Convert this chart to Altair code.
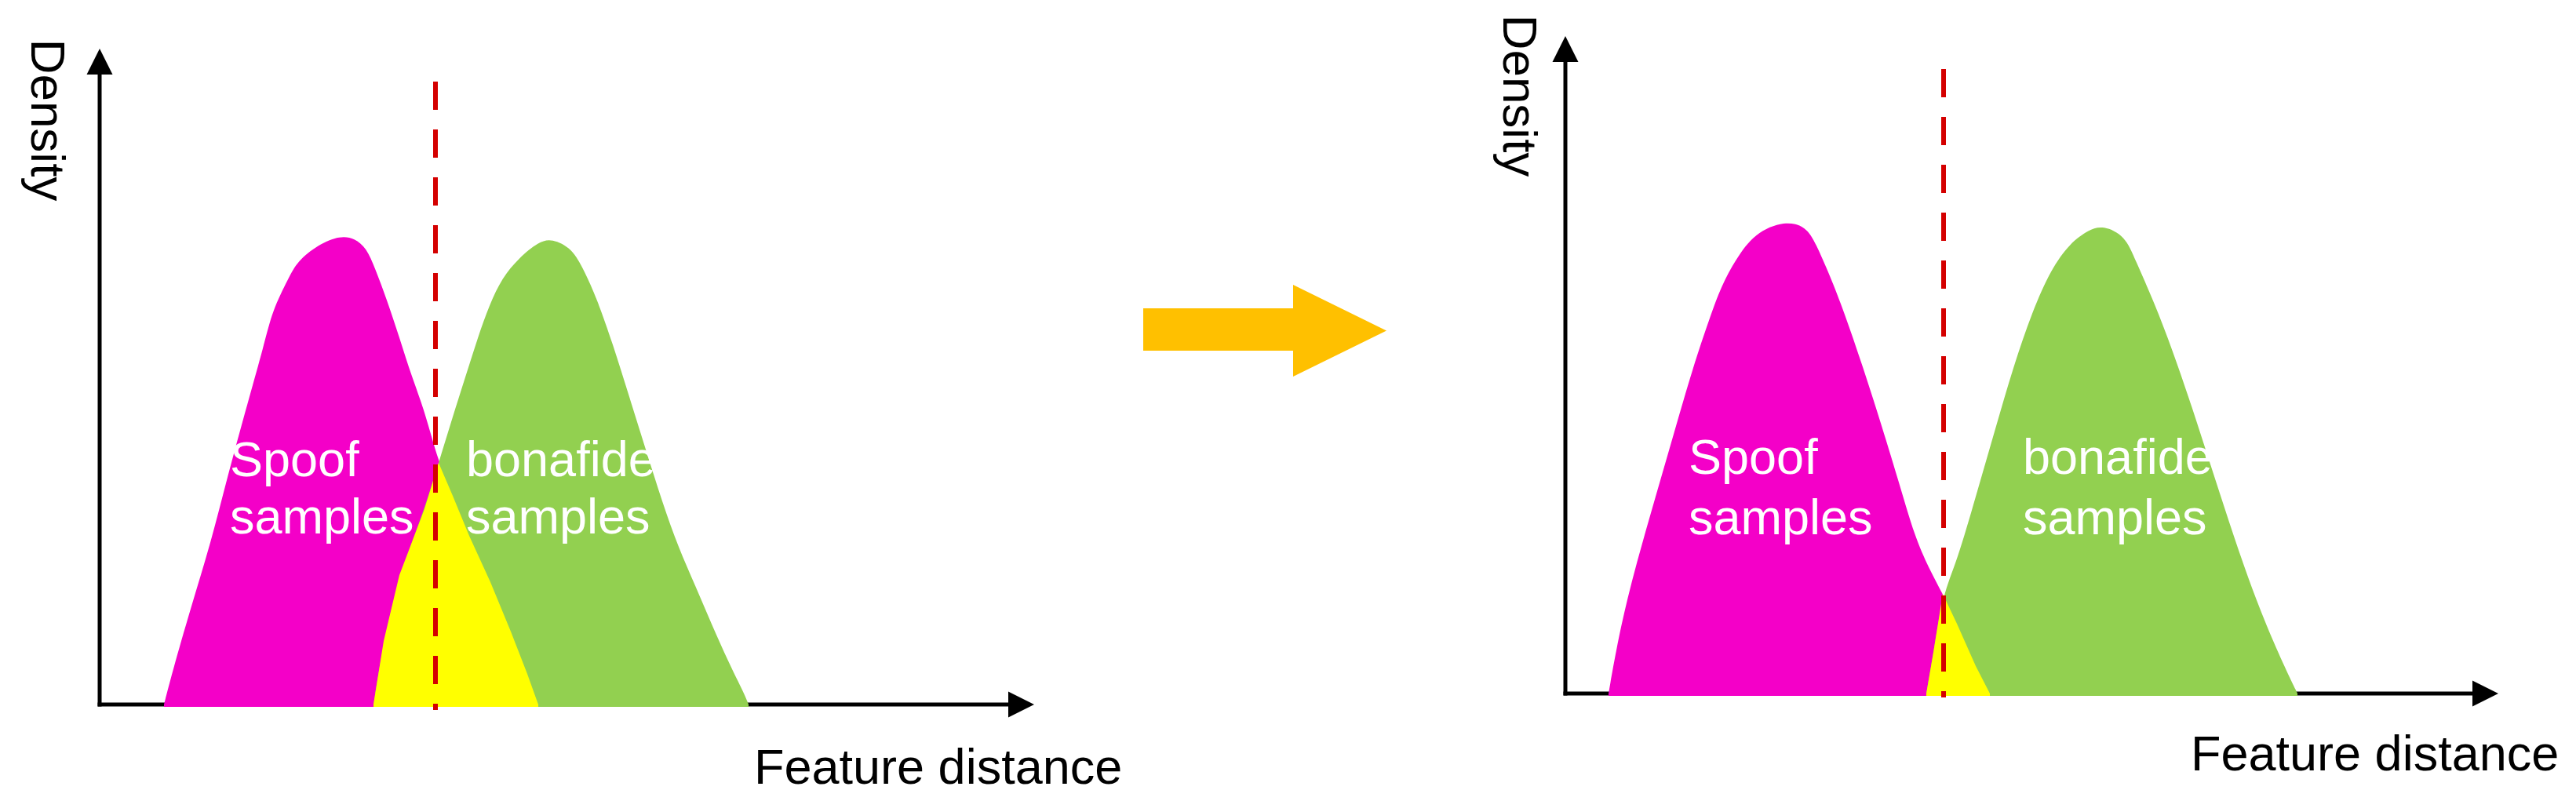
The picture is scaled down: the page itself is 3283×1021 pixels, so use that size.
import altair as alt
import pandas as pd

FONT = "Liberation Sans"

# ---------------- values ----------------
# left panel ("before"): feature distance / density, origin at axis corner
L_spoof_x = [82, 92, 116, 142, 163, 186, 210, 220, 241, 252, 278, 307, 325, 340, 351, 366, 382, 398, 414, 432, 450, 471, 498, 524, 545, 559]
L_spoof_y = [0, 39, 123, 207, 291, 375, 460, 502, 544, 565, 586, 598, 594, 582, 556, 516, 468, 417, 375, 308, 266, 215, 156, 93, 39, 0]
L_bona_x = [349, 362, 382, 414, 432, 450, 466, 482, 497, 513, 534, 560, 576, 602, 618, 633, 654, 675, 696, 717, 738, 759, 780, 801, 822, 827]
L_bona_y = [0, 81, 165, 249, 308, 367, 417, 468, 510, 544, 569, 590, 594, 582, 552, 519, 460, 392, 325, 258, 199, 152, 102, 55, 13, 0]
L_overlap_x = [349, 362, 382, 414, 432, 450, 471, 498, 524, 545, 559]
L_overlap_y = [0, 81, 165, 249, 308, 266, 215, 156, 93, 39, 0]
L_threshold = 428

# right panel ("after")
R_spoof_x = [55, 70, 91, 115, 139, 163, 184, 199, 217, 241, 280, 307, 319, 337, 355, 379, 403, 427, 445, 463, 481, 499, 523, 541]
R_spoof_y = [0, 85, 168, 251, 334, 417, 479, 520, 553, 587, 603, 595, 574, 533, 487, 417, 342, 263, 201, 160, 127, 89, 35, 0]
R_bona_x = [460, 469, 481, 499, 523, 547, 571, 595, 619, 643, 667, 685, 714, 726, 750, 774, 798, 822, 846, 870, 894, 918, 933]
R_bona_y = [0, 52, 127, 168, 251, 334, 417, 487, 541, 574, 591, 597, 583, 553, 500, 437, 367, 292, 218, 147, 85, 31, 0]
R_overlap_x = [460, 469, 481, 499, 523, 541]
R_overlap_y = [0, 52, 127, 89, 35, 0]
R_threshold = 482

LABEL_SPOOF = ["Spoof", "samples"]
LABEL_BONA = ["bonafide", "samples"]
X_TITLE = "Feature distance"
Y_TITLE = "Density"

# ---------------- styles / layout ----------------
MAGENTA = "#F400C8"
GREEN = "#92D050"
YELLOW = "#FFFF00"
RED = "#D40000"
GOLD = "#FFC000"
H = 1003


def panel(sx, sy, bx, by, ox_, oy_, thr, width, ox, oy, ytip, xtip,
          dash_top, dash_bot, lab_sx, lab_bx, lab_y1, lab_y2,
          dens_pos, fd_pos):
    xs = alt.Scale(domain=[-ox, width - ox], nice=False, zero=False)
    ys = alt.Scale(domain=[-(H - oy), oy], nice=False, zero=False)
    X = lambda f: alt.X(f, type="quantitative", scale=xs, axis=None)
    Y = lambda f: alt.Y(f, type="quantitative", scale=ys, axis=None)

    axes = pd.DataFrame({"x": [0, -2.5], "y": [-2.5, 0],
                         "x2": [0, xtip - 25], "y2": [ytip - 25, 0]})
    axis_rules = alt.Chart(axes).mark_rule(color="black", strokeWidth=5).encode(
        x=X("x"), y=Y("y"), x2="x2", y2="y2")
    yhead = alt.Chart(pd.DataFrame({"y": [ytip - 33, ytip], "x": [-16.5, 0], "x2": [16.5, 0]})).mark_area(
        color="black", orient="horizontal").encode(y=Y("y"), x=X("x"), x2="x2")
    xhead = alt.Chart(pd.DataFrame({"x": [xtip - 33, xtip], "y": [-16.5, 0], "y2": [16.5, 0]})).mark_area(
        color="black", orient="vertical").encode(x=X("x"), y=Y("y"), y2="y2")

    def area(xv, yv, col, interp):
        return alt.Chart(pd.DataFrame({"x": xv, "y": yv})).mark_area(
            color=col, opacity=1, interpolate=interp).encode(
            x=X("x"), y=Y("y"), y2=alt.datum(-3))

    spoof = area(sx, sy, MAGENTA, "basis")
    bona = area(bx, by, GREEN, "basis")
    over = area(ox_, oy_, YELLOW, "linear")

    dash = alt.Chart(pd.DataFrame({"x": [thr], "y": [dash_top], "y2": [dash_bot]})).mark_rule(
        color=RED, strokeWidth=6, strokeDash=[36, 25]).encode(x=X("x"), y=Y("y"), y2="y2")

    labs = pd.DataFrame({
        "x": [lab_sx, lab_sx, lab_bx, lab_bx],
        "y": [lab_y1, lab_y2, lab_y1, lab_y2],
        "t": [LABEL_SPOOF[0], LABEL_SPOOF[1], LABEL_BONA[0], LABEL_BONA[1]],
    })
    labels = alt.Chart(labs).mark_text(
        align="left", baseline="alphabetic", font=FONT, fontSize=63, color="white").encode(
        x=X("x"), y=Y("y"), text="t:N")

    ytitle = alt.Chart(pd.DataFrame({"x": [dens_pos[0]], "y": [dens_pos[1]], "t": [Y_TITLE]})).mark_text(
        angle=90, align="center", baseline="middle", font=FONT, fontSize=62, color="black").encode(
        x=X("x"), y=Y("y"), text="t:N")
    xtitle = alt.Chart(pd.DataFrame({"x": [fd_pos[0]], "y": [fd_pos[1]], "t": [X_TITLE]})).mark_text(
        align="left", baseline="alphabetic", font=FONT, fontSize=63, color="black").encode(
        x=X("x"), y=Y("y"), text="t:N")

    return alt.layer(axis_rules, yhead, xhead, spoof, bona, over, dash, labels, ytitle, xtitle).properties(
        width=width, height=H)


left = panel(L_spoof_x, L_spoof_y, L_bona_x, L_bona_y, L_overlap_x, L_overlap_y, L_threshold,
             width=1437, ox=119, oy=890, ytip=836, xtip=1191, dash_top=794, dash_bot=-7,
             lab_sx=166, lab_bx=467, lab_y1=291, lab_y2=218,
             dens_pos=(-68, 745), fd_pos=(834, -101))

right = panel(R_spoof_x, R_spoof_y, R_bona_x, R_bona_y, R_overlap_x, R_overlap_y, R_threshold,
              width=1475, ox=195, oy=876, ytip=838, xtip=1189, dash_top=796, dash_bot=-5,
              lab_sx=157, lab_bx=583, lab_y1=280, lab_y2=203,
              dens_pos=(-60, 762), fd_pos=(797, -98))

# middle arrow
ax = alt.Scale(domain=[0, 355], nice=False, zero=False)
ay = alt.Scale(domain=[0, H], nice=False, zero=False, reverse=True)
shaft = alt.Chart(pd.DataFrame({"x": [12], "x2": [204], "y": [385], "y2": [439]})).mark_rect(color=GOLD).encode(
    x=alt.X("x:Q", scale=ax, axis=None), x2="x2", y=alt.Y("y:Q", scale=ay, axis=None), y2="y2")
head = alt.Chart(pd.DataFrame({"x": [203, 322], "y": [355, 413.5], "y2": [472, 413.5]})).mark_area(color=GOLD).encode(
    x=alt.X("x:Q", scale=ax, axis=None), y=alt.Y("y:Q", scale=ay, axis=None), y2="y2")
mid = alt.layer(shaft, head).properties(width=355, height=H)

chart = alt.hconcat(left, mid, right, spacing=0).resolve_scale(
    x="independent", y="independent").properties(padding=0, background="white").configure_view(stroke=None)

chart.save("out.html", embed_options={"renderer": "svg", "actions": False})
